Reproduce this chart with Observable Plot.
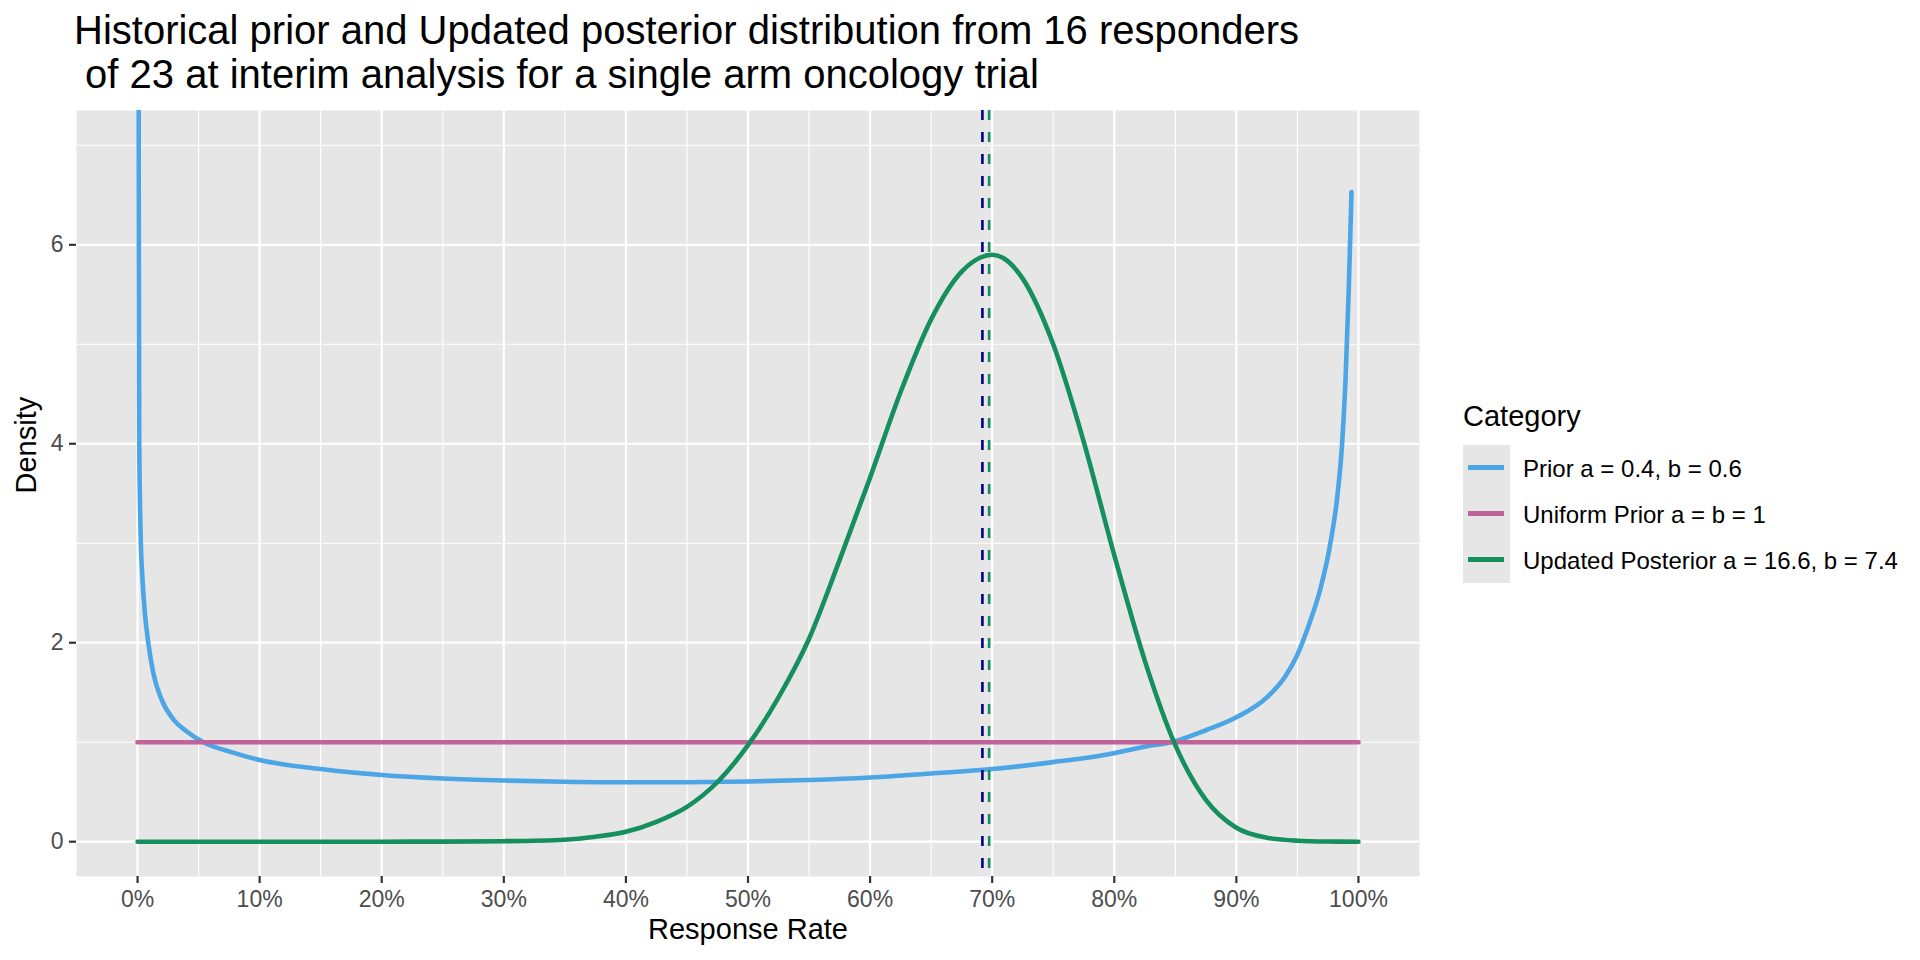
<!DOCTYPE html>
<html>
<head>
<meta charset="utf-8">
<script src="https://cdn.jsdelivr.net/npm/d3@7"></script>
<script src="https://cdn.jsdelivr.net/npm/@observablehq/plot@0.6"></script>
<style>
  html, body { margin: 0; padding: 0; background: #ffffff; }
  #page { position: relative; width: 1920px; height: 960px; overflow: hidden; font-family: "Liberation Sans", Arial, Helvetica, sans-serif; }
  #title { position: absolute; left: 74px; top: 7.5px; font-size: 40px; line-height: 44px; color: #000; white-space: pre; }
  #chart { position: absolute; left: 0; top: 100px; }
  .abs { position: absolute; }
</style>
</head>
<body>
<div id="page">
  <div id="title"></div>
  <div id="chart"></div>
  <div id="legend"></div>
</div>
<script>
// ---- Text ----
const titleLines = ["Historical prior and Updated posterior distribution from 16 responders", " of 23 at interim analysis for a single arm oncology trial"];
const xLabel = "Response Rate";
const yLabel = "Density";
const legendTitle = "Category";

// ---- Categories & colours ----
const categories = ["Prior a = 0.4, b = 0.6", "Uniform Prior a = b = 1", "Updated Posterior a = 16.6, b = 7.4"];
const colors = ["#4CA5E5", "#C0639A", "#168F5F"];
const meanColor = "#00008B";

// ---- Ticks ----
const xTicks = [0, 0.1, 0.2, 0.3, 0.4, 0.5, 0.6, 0.7, 0.8, 0.9, 1];
const xTickLabels = ["0%", "10%", "20%", "30%", "40%", "50%", "60%", "70%", "80%", "90%", "100%"];
const xMinor = [0.05, 0.15, 0.25, 0.35, 0.45, 0.55, 0.65, 0.75, 0.85, 0.95];
const yTicks = [0, 2, 4, 6];
const yTickLabels = ["0", "2", "4", "6"];
const yMinor = [1, 3, 5, 7];

// ---- Series ----
const priorX = [0.0004, 0.0010, 0.0014, 0.0025, 0.0040, 0.0060, 0.0088, 0.013, 0.020, 0.030, 0.040, 0.054, 0.077, 0.10, 0.15, 0.20, 0.25, 0.30, 0.35, 0.40, 0.45, 0.50, 0.55, 0.60, 0.65, 0.70, 0.75, 0.80, 0.825, 0.85, 0.875, 0.90, 0.925, 0.94, 0.95, 0.96, 0.969, 0.977, 0.9825, 0.9866, 0.9894, 0.9921, 0.9943];
const priorY = [12, 6.5, 4.0, 3.1, 2.65, 2.3, 2.0, 1.69, 1.42, 1.22, 1.11, 1.0, 0.90, 0.82, 0.73, 0.67, 0.635, 0.615, 0.603, 0.597, 0.598, 0.605, 0.62, 0.645, 0.685, 0.73, 0.80, 0.89, 0.955, 1.01, 1.12, 1.25, 1.45, 1.66, 1.88, 2.2, 2.55, 3.0, 3.45, 4.0, 4.64, 5.57, 6.53];

const uniformX = [0, 1];
const uniformY = [1, 1];

const postX = [0, 0.1, 0.2, 0.25, 0.3, 0.35, 0.375, 0.40, 0.425, 0.45, 0.475, 0.50, 0.525, 0.55, 0.575, 0.60, 0.625, 0.65, 0.675, 0.69, 0.70, 0.71, 0.725, 0.75, 0.775, 0.80, 0.825, 0.85, 0.875, 0.90, 0.925, 0.95, 0.975, 1.0];
const postY = [0, 0, 0, 0.001, 0.005, 0.02, 0.05, 0.10, 0.20, 0.35, 0.60, 0.97, 1.45, 2.04, 2.83, 3.66, 4.52, 5.25, 5.73, 5.87, 5.90, 5.86, 5.66, 5.0, 4.02, 2.88, 1.82, 0.97, 0.42, 0.14, 0.04, 0.01, 0.002, 0];

const posteriorMean = 0.692;
const posteriorMedian = 0.6975;

// ---- Build tables ----
const toRows = (xs, ys, cat) => xs.map((x, i) => ({x, y: ys[i], cat}));
const rows = [
  ...toRows(priorX, priorY, categories[0]),
  ...toRows(uniformX, uniformY, categories[1]),
  ...toRows(postX, postY, categories[2])
];
const xLab = new Map(xTicks.map((t, i) => [t, xTickLabels[i]]));
const yLab = new Map(yTicks.map((t, i) => [t, yTickLabels[i]]));

const font = "Liberation Sans, Arial, Helvetica, sans-serif";

const chart = Plot.plot({
  width: 1920,
  height: 860,
  marginTop: 10,
  marginBottom: 84,
  marginLeft: 76,
  marginRight: 501,
  style: {fontFamily: font, fontSize: "23px", background: "transparent", overflow: "visible"},
  x: {domain: [-0.05, 1.05]},
  y: {domain: [-0.35, 7.35]},
  color: {domain: categories, range: colors},
  marks: [
    Plot.frame({fill: "#E6E6E6", stroke: null}),
    Plot.ruleX(xMinor, {stroke: "#FFFFFF", strokeWidth: 1.1}),
    Plot.ruleY(yMinor, {stroke: "#FFFFFF", strokeWidth: 1.1}),
    Plot.ruleX(xTicks, {stroke: "#FFFFFF", strokeWidth: 2.2}),
    Plot.ruleY(yTicks, {stroke: "#FFFFFF", strokeWidth: 2.2}),
    Plot.axisX({ticks: xTicks, tickFormat: d => xLab.get(d), tickSize: 7, tickPadding: 7, stroke: "#333333", strokeWidth: 2.2, fill: "#4D4D4D", fontSize: 23, label: null}),
    Plot.axisY({ticks: yTicks, tickFormat: d => yLab.get(d), tickSize: 7, tickPadding: 6, stroke: "#333333", strokeWidth: 2.2, fill: "#4D4D4D", fontSize: 23, label: null}),
    Plot.line(rows, {x: "x", y: "y", z: "cat", stroke: "cat", strokeWidth: 4.6, curve: "monotone-x", clip: true}),
    Plot.ruleX([posteriorMean], {stroke: meanColor, strokeWidth: 2.6, strokeDasharray: "10,12"}),
    Plot.ruleX([posteriorMedian], {stroke: colors[2], strokeWidth: 2.6, strokeDasharray: "10,12"}),
    Plot.text([xLabel], {frameAnchor: "bottom", dy: 62, lineAnchor: "bottom", fontSize: 29, fill: "#000000", text: d => d}),
    Plot.text([yLabel], {frameAnchor: "left", dx: -41, rotate: -90, lineAnchor: "bottom", fontSize: 29, fill: "#000000", text: d => d})
  ]
});
document.getElementById("chart").appendChild(chart);

// ---- Title ----
document.getElementById("title").textContent = titleLines.join("\n");

// ---- Legend (HTML) ----
const legend = document.getElementById("legend");
const lt = document.createElement("div");
lt.className = "abs";
Object.assign(lt.style, {left: "1463px", top: "402.2px", fontSize: "29px", lineHeight: "29px", color: "#000", whiteSpace: "nowrap"});
lt.textContent = legendTitle;
legend.appendChild(lt);
const keyBg = document.createElement("div");
keyBg.className = "abs";
Object.assign(keyBg.style, {left: "1462.7px", top: "445px", width: "47.3px", height: "137.7px", background: "#E6E6E6"});
legend.appendChild(keyBg);
categories.forEach((c, i) => {
  const k = document.createElement("div");
  k.className = "abs";
  Object.assign(k.style, {left: "1468px", top: (465.2 + 46 * i) + "px", width: "36px", height: "5px", background: colors[i]});
  legend.appendChild(k);
  const t = document.createElement("div");
  t.className = "abs";
  Object.assign(t.style, {left: "1523px", top: (457.4 + 46 * i) + "px", fontSize: "24px", lineHeight: "24px", color: "#000", whiteSpace: "nowrap"});
  t.textContent = c;
  legend.appendChild(t);
});
</script>
</body>
</html>
